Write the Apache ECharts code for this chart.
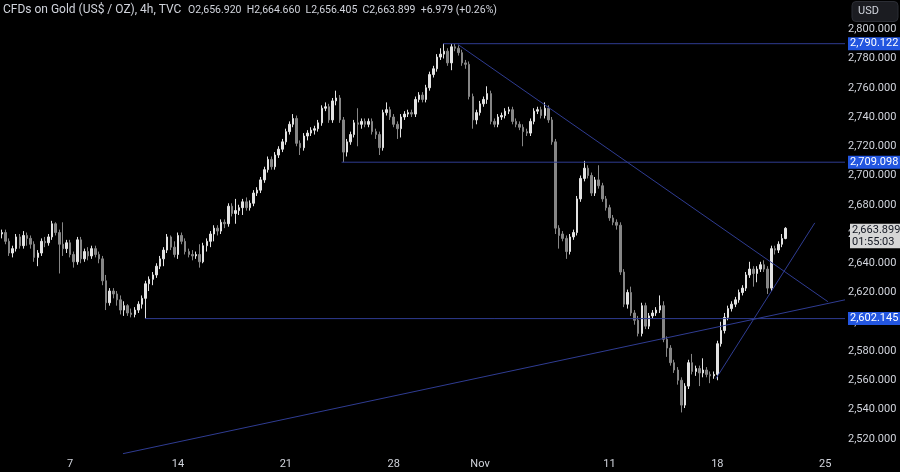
<!DOCTYPE html>
<html><head><meta charset="utf-8">
<script src="https://cdn.jsdelivr.net/npm/echarts@6/dist/echarts.min.js"></script>
<style>html,body{margin:0;padding:0;background:#000;}#c{width:900px;height:472px;}</style>
</head><body><div id="c"></div>
<script>
// ---- Data (4h candles, TVC gold CFD) ----
const opens = [2660,2661,2655,2647,2650,2658,2652,2659,2657,2653,2644,2647,2655,2654,2658,2667,2661,2653,2650,2654,
2646,2641,2656,2643,2648,2645,2650,2646,2643,2628,2613,2621,2619,2615,2608,2611,2606,2605,2608,2612,
2616,2626,2629,2632,2638,2643,2649,2658,2651,2646,2659,2655,2648,2646,2645,2646,2641,2652,2655,2660,
2664,2662,2668,2667,2679,2674,2676,2678,2682,2678,2681,2688,2690,2697,2704,2711,2706,2714,2718,2723,
2730,2735,2739,2722,2719,2727,2729,2731,2732,2736,2746,2747,2738,2751,2753,2738,2716,2723,2728,2736,
2735,2737,2735,2737,2730,2728,2719,2743,2745,2740,2735,2732,2740,2742,2743,2742,2752,2755,2752,2760,
2769,2773,2781,2783,2785,2777,2788,2787,2784,2777,2776,2754,2738,2743,2749,2752,2756,2737,2735,2740,
2741,2744,2745,2737,2735,2733,2730,2729,2737,2744,2745,2741,2746,2738,2723,2664,2660,2657,2648,2658,
2661,2684,2698,2705,2700,2688,2697,2693,2684,2678,2671,2668,2666,2634,2612,2620,2606,2601,2592,2611,
2597,2604,2606,2608,2611,2588,2582,2572,2567,2560,2543,2556,2572,2566,2568,2565,2567,2564,2563,2564,
2585,2594,2603,2609,2612,2615,2620,2623,2632,2636,2633,2636,2639,2636,2623,2650,2649,2653,2656.920];
const closes = [2661,2655,2647,2650,2658,2652,2659,2657,2653,2644,2647,2655,2654,2658,2667,2661,2653,2650,2654,2646,
2641,2656,2643,2648,2645,2650,2646,2643,2628,2613,2621,2619,2615,2608,2611,2606,2605,2608,2612,2616,
2626,2629,2632,2638,2643,2649,2658,2651,2646,2659,2655,2648,2646,2645,2646,2641,2652,2655,2660,2664,
2662,2668,2667,2679,2674,2676,2678,2682,2678,2681,2688,2690,2697,2704,2711,2706,2714,2718,2723,2730,
2735,2739,2722,2719,2727,2729,2731,2732,2736,2746,2747,2738,2751,2753,2738,2716,2723,2728,2736,2735,
2737,2735,2737,2730,2728,2719,2743,2745,2740,2735,2732,2740,2742,2743,2742,2752,2755,2752,2760,2769,
2773,2781,2783,2785,2777,2788,2787,2784,2777,2776,2754,2738,2743,2749,2752,2756,2737,2735,2740,2741,
2744,2745,2737,2735,2733,2730,2729,2737,2744,2745,2741,2746,2738,2723,2664,2659,2657,2648,2658,2661,
2684,2698,2705,2700,2688,2697,2693,2684,2678,2671,2668,2666,2634,2612,2620,2606,2601,2592,2611,2597,
2604,2606,2608,2611,2588,2582,2572,2567,2560,2543,2556,2572,2566,2568,2565,2567,2564,2563,2564,2585,
2594,2603,2609,2612,2615,2620,2623,2632,2636,2633,2636,2639,2636,2623,2650,2649,2653,2656.920,2663.899];
const lows = [2657,2653,2645,2644,2648,2650,2650,2652,2650,2641,2638,2645,2651,2652,2656,2659,2633,2645,2647,2644,
2637,2639,2640,2641,2642,2643,2644,2640,2625,2608,2611,2616,2611,2605,2604,2604,2603,2603,2606,2609,
2602.145,2621,2625,2630,2636,2638,2647,2649,2644,2643,2653,2646,2644,2642,2643,2637,2640,2648,2651,2655,
2659,2660,2664,2665,2672,2667,2673,2673,2676,2676,2679,2686,2688,2695,2702,2704,2704,2712,2716,2721,
2728,2733,2720,2714,2717,2724,2727,2728,2730,2734,2744,2736,2736,2748,2736,2709.098,2713,2721,2726,2720,
2732,2733,2733,2728,2725,2714,2717,2741,2738,2733,2725,2726,2738,2740,2740,2740,2750,2750,2750,2758,
2767,2771,2779,2780,2775,2772,2785,2782,2775,2773,2752,2732,2735,2741,2747,2749,2735,2733,2733,2738,
2739,2742,2735,2733,2731,2720,2727,2727,2735,2742,2739,2739,2736,2721,2660,2650,2655,2643,2646,2656,
2659,2682,2696,2698,2686,2686,2691,2682,2676,2669,2666,2663,2632,2610,2609,2604,2598,2590,2590,2595,
2595,2602,2604,2606,2586,2576,2570,2565,2557,2538,2541,2554,2564,2563,2556,2562,2562,2558,2561,2560,
2583,2592,2601,2607,2610,2613,2618,2621,2630,2624,2627,2634,2634,2619,2621,2646,2647,2651,2656.405];
const highs = [2663,2663,2657,2652,2660,2660,2662,2661,2659,2655,2649,2657,2658,2660,2669,2668,2663,2668,2656,2656,
2648,2658,2658,2650,2651,2652,2652,2648,2645,2632,2623,2623,2621,2618,2614,2612,2609,2610,2614,2618,
2628,2631,2634,2640,2645,2651,2660,2659,2655,2661,2661,2657,2650,2649,2648,2653,2654,2657,2662,2666,
2666,2670,2670,2681,2681,2684,2680,2684,2685,2683,2690,2692,2699,2706,2713,2713,2716,2720,2725,2732,
2737,2742,2741,2724,2729,2731,2733,2734,2738,2748,2750,2749,2753,2758,2755,2740,2725,2730,2738,2746,
2739,2739,2739,2739,2732,2730,2745,2750,2747,2742,2737,2742,2744,2745,2745,2754,2757,2757,2762,2771,
2775,2783,2787,2790.122,2787,2790,2790,2789,2786,2779,2778,2756,2745,2751,2754,2761,2758,2739,2742,2743,
2746,2747,2747,2739,2737,2735,2732,2739,2746,2747,2747,2750,2748,2740,2725,2666,2662,2659,2660,2663,
2686,2700,2710,2707,2702,2699,2707,2695,2686,2680,2673,2670,2668,2636,2622,2624,2608,2604,2613,2613,
2606,2608,2610,2618,2614,2590,2584,2574,2569,2562,2558,2574,2578,2570,2570,2575,2569,2566,2566,2587,
2600,2606,2611,2614,2617,2622,2625,2634,2641,2638,2638,2641,2642,2638,2652,2652,2655,2660,2664.660];

// Drawn levels / trend lines (bar index, price)
const levelPrices = [2790.122, 2709.098, 2602.145];
const levelStartBar = [122.7, 94.5, 39.8];
const resistanceLine = [[126.9, 2789.5], [229.75, 2613.7]];
const longSupportLine = [[33.7, 2509.8], [234.5, 2615.0]];
const steepSupportLine = [[198.6, 2561.1], [226.1, 2667.6]];
const symbolName = 'CFDs on Gold (US$ / OZ), 4h, TVC';
const countdown = '01:55:03';
const totalBars = 235;

// ---- Category (time) axis: 6 four-hour bars per weekday ----
const monthNames = ['Jan','Feb','Mar','Apr','May','Jun','Jul','Aug','Sep','Oct','Nov','Dec'];
const categories = [], tickLabels = [];
let day = new Date(Date.UTC(2024, 9, 1));
let lastLabel = -100;
while (categories.length < totalBars) {
  const dow = day.getUTCDay();
  if (dow !== 0 && dow !== 6) {
    for (let h = 0; h < 24 && categories.length < totalBars; h += 4) {
      if (day.getUTCMonth() === 9 && day.getUTCDate() === 1 && h < 20) continue;
      const idx = categories.length;
      categories.push(day.toISOString().slice(0, 10) + ' ' + String(h).padStart(2, '0') + ':00');
      let lab = '';
      if (h === 0) {
        if (day.getUTCDate() === 1) lab = monthNames[day.getUTCMonth()];
        else if (dow === 1 && idx - lastLabel > 12) lab = String(day.getUTCDate());
      }
      if (lab) lastLabel = idx;
      tickLabels.push(lab);
    }
  }
  day = new Date(day.getTime() + 86400000);
}

function fmt(v) {
  const s = Number(v).toFixed(3).split('.');
  return s[0].replace(/\B(?=(\d{3})+(?!\d))/g, ',') + '.' + s[1];
}

const FONT = 'Roboto, "Liberation Sans", sans-serif';
const TXT = '#d1d4dc';
const LINE = '#2f3c92';
const n = closes.length;
const candleData = opens.map((o, i) => [o, closes[i], lows[i], highs[i]]);
const last = n - 1;
const change = closes[last] - closes[last - 1];
const ohlcText = 'O' + fmt(opens[last]) + '  H' + fmt(highs[last]) +
  '  L' + fmt(lows[last]) + '  C' + fmt(closes[last]) + '  +' + change.toFixed(3) +
  ' (+' + (change / closes[last - 1] * 100).toFixed(2) + '%)';

const lineSeries = (data) => ({
  type: 'line', xAxisIndex: 1, yAxisIndex: 0, data: data, symbol: 'none', silent: true,
  lineStyle: { color: LINE, width: 1 }, z: 5, animation: false
});

const chart = echarts.init(document.getElementById('c'), null, { renderer: 'canvas' });
const option = {
  backgroundColor: '#000000',
  animation: false,
  grid: { left: 0, right: 55, top: -1, bottom: 4 },
  xAxis: [{
    type: 'category', data: categories, boundaryGap: true, offset: -16,
    axisLine: { show: false }, axisTick: { show: false }, splitLine: { show: false },
    axisLabel: {
      interval: (i) => tickLabels[i] !== '', formatter: (v, i) => tickLabels[i],
      color: TXT, fontSize: 11, fontFamily: FONT, margin: 7
    }
  }, {
    type: 'value', min: -0.5, max: totalBars - 0.5, show: false
  }],
  yAxis: {
    type: 'value', position: 'right', min: 2500, max: 2820, interval: 20, scale: true,
    axisLine: { show: false }, axisTick: { show: false }, splitLine: { show: false },
    axisLabel: { formatter: fmt, color: TXT, fontSize: 11, fontFamily: FONT, margin: 3,
      showMinLabel: false, showMaxLabel: false }
  },
  series: [{
    type: 'candlestick', data: candleData, barWidth: '55%',
    itemStyle: { color: '#e3e3e3', color0: '#868686', borderColor: '#e3e3e3', borderColor0: '#868686', borderWidth: 1 },
    z: 2
  },
  ...levelPrices.map((p, k) => lineSeries([[levelStartBar[k], p], [totalBars - 0.5, p]])),
  lineSeries(resistanceLine), lineSeries(longSupportLine), lineSeries(steepSupportLine)]
};
chart.setOption(option);

// Price labels on the axis, positioned via the chart's own scale
const plotRight = 900 - 55;
const g = [];
levelPrices.forEach((p) => {
  const y = chart.convertToPixel({ yAxisIndex: 0 }, p);
  g.push({ type: 'rect', z: 100, shape: { x: plotRight + 3, y: y - 6.5, width: 52, height: 13 }, style: { fill: '#2356e0' } });
  g.push({ type: 'text', z: 101, style: { text: fmt(p), x: plotRight + 5, y: y, fill: '#ffffff', font: '11px ' + FONT, verticalAlign: 'middle' } });
});
const yc = chart.convertToPixel({ yAxisIndex: 0 }, closes[last]);
g.push({ type: 'rect', z: 100, shape: { x: plotRight + 5, y: yc - 4.5, width: 50, height: 24.5 }, style: { fill: '#d6d6d6' } });
g.push({ type: 'text', z: 101, style: { text: fmt(closes[last]), x: plotRight + 7, y: yc + 2, fill: '#131722', font: '11px ' + FONT, verticalAlign: 'middle' } });
g.push({ type: 'text', z: 101, style: { text: countdown, x: plotRight + 7, y: yc + 13.5, fill: '#131722', font: '11px ' + FONT, verticalAlign: 'middle' } });
// currency box
g.push({ type: 'rect', z: 100, shape: { x: plotRight + 7, y: 1.5, width: 46, height: 20, r: 4 }, style: { fill: '#1b1c21', stroke: '#2b2d34', lineWidth: 1 } });
g.push({ type: 'text', z: 101, style: { text: 'USD', x: plotRight + 13, y: 11.5, fill: TXT, font: '11px ' + FONT, verticalAlign: 'middle' } });
// header
g.push({ type: 'text', z: 101, style: {
  text: '{a|' + symbolName + '}  {b|' + ohlcText + '}', x: 3, y: 10, verticalAlign: 'middle',
  rich: { a: { fill: TXT, fontSize: 12, fontFamily: FONT }, b: { fill: TXT, fontSize: 10.5, fontFamily: FONT } }
} });
chart.setOption({ graphic: g });
</script>
</body></html>
